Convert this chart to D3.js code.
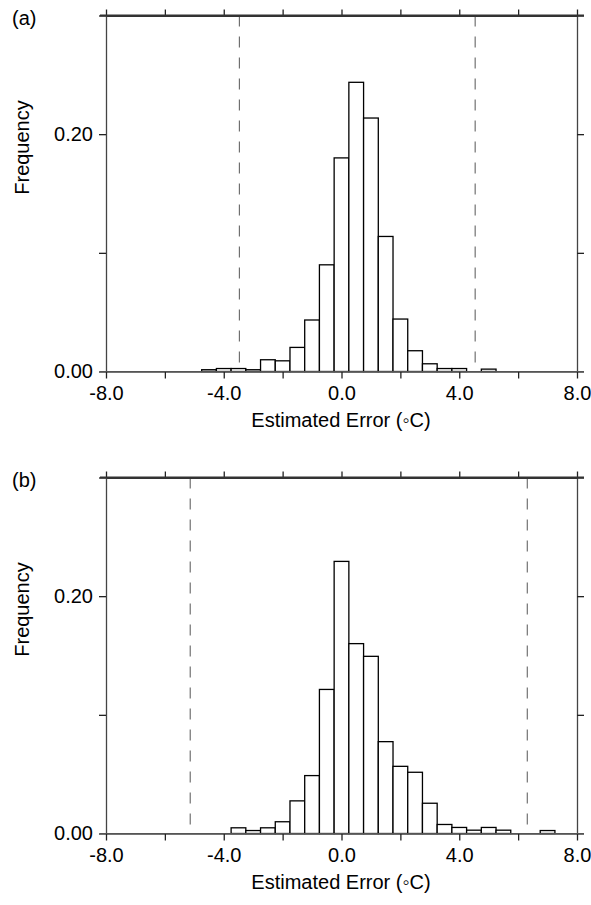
<!DOCTYPE html>
<html>
<head>
  <meta charset="UTF-8">
  <title>Estimated error histograms</title>
  <script src="https://cdn.jsdelivr.net/npm/d3@7"></script>
  <style>
    body { margin: 0; background: #fff; }
    text { font-family: "Liberation Sans", Arial, sans-serif; fill: #000; }
  </style>
</head>
<body>
<div id="chart"></div>
<script>
// bin centres (bin width 0.5 degC)
var binsA = [-4.5, -4.0, -3.5, -3.0, -2.5, -2.0, -1.5, -1.0, -0.5, 0.0, 0.5, 1.0, 1.5, 2.0, 2.5, 3.0, 3.5, 4.0, 4.5, 5.0];
var freqA = [0.0015, 0.0025, 0.0025, 0.0015, 0.0099, 0.0090, 0.0203, 0.0434, 0.0899, 0.1800, 0.2437, 0.2136, 0.1138, 0.0442, 0.0175, 0.0065, 0.0025, 0.0025, 0, 0.0020];

var binsB = [-3.5, -3.0, -2.5, -2.0, -1.5, -1.0, -0.5, 0.0, 0.5, 1.0, 1.5, 2.0, 2.5, 3.0, 3.5, 4.0, 4.5, 5.0, 5.5, 6.0, 6.5, 7.0];
var freqB = [0.0048, 0.0025, 0.0048, 0.0099, 0.0275, 0.0488, 0.1214, 0.2293, 0.1600, 0.1493, 0.0774, 0.0566, 0.0516, 0.0255, 0.0076, 0.0051, 0.0028, 0.0051, 0.0028, 0, 0, 0.0025];

// dashed limits
var limitsA = [-3.47, 4.54];
var limitsB = [-5.14, 6.31];

var xTicks = [-8, -6, -4, -2, 0, 2, 4, 6, 8];
var xLabels = ["-8.0", "", "-4.0", "", "0.0", "", "4.0", "", "8.0"];
var yTicks = [0, 0.1, 0.2, 0.3];
var yLabels = ["0.00", "", "0.20", ""];

var binWidth = 0.5;

var W = 591, H = 905;
var svg = d3.select("#chart").append("svg")
  .attr("width", W).attr("height", H);

var x = d3.scaleLinear().domain([-8, 8]).range([106, 577]);

function panel(top, tag, bins, freq, limits) {
  var bottom = top + 356;
  var y = d3.scaleLinear().domain([0, 0.3]).range([bottom, top]);
  var g = svg.append("g");

  // dashed limits
  g.selectAll("line.lim").data(limits).enter().append("line")
    .attr("class", "lim")
    .attr("x1", d => x(d)).attr("x2", d => x(d))
    .attr("y1", top).attr("y2", bottom)
    .attr("stroke", "#555").attr("stroke-width", 1)
    .attr("stroke-dasharray", "11,10");

  // bars
  var data = bins.map((c, i) => ({c: c, v: freq[i]})).filter(d => d.v > 0);
  g.selectAll("rect.bar").data(data).enter().append("rect")
    .attr("class", "bar")
    .attr("x", d => x(d.c - binWidth / 2))
    .attr("width", d => x(d.c + binWidth / 2) - x(d.c - binWidth / 2))
    .attr("y", d => y(d.v))
    .attr("height", d => y(0) - y(d.v))
    .attr("fill", "#fff")
    .attr("stroke", "#000")
    .attr("stroke-width", 1.3);

  // frame axes
  var bAx = g.append("g").attr("transform", "translate(0," + bottom + ")")
    .call(d3.axisBottom(x).tickValues(xTicks).tickSize(7).tickSizeOuter(0)
      .tickFormat((d, i) => xLabels[i]));
  var tAx = g.append("g").attr("transform", "translate(0," + top + ")")
    .call(d3.axisTop(x).tickValues(xTicks).tickSize(6).tickSizeOuter(0).tickFormat(""));
  var lAx = g.append("g").attr("transform", "translate(106,0)")
    .call(d3.axisLeft(y).tickValues(yTicks).tickSize(7).tickSizeOuter(0)
      .tickFormat((d, i) => yLabels[i]));
  var rAx = g.append("g").attr("transform", "translate(577,0)")
    .call(d3.axisRight(y).tickValues(yTicks).tickSize(7).tickSizeOuter(0).tickFormat(""));

  [bAx, tAx, lAx, rAx].forEach(function(a) {
    a.select(".domain").attr("stroke", "#444").attr("stroke-width", 1.3);
    a.selectAll(".tick line").attr("stroke", "#222").attr("stroke-width", 1.3);
    a.selectAll("text").attr("font-family", "Liberation Sans, Arial, sans-serif")
      .attr("font-size", 20).attr("fill", "#000");
  });
  tAx.select(".domain").attr("stroke", "#333").attr("stroke-width", 2);
  bAx.selectAll("text").attr("dy", null).attr("y", 28);
  lAx.selectAll("text").attr("x", -13);

  // baseline / top line reach beyond the frame
  g.append("line").attr("x1", 100).attr("x2", 584).attr("y1", bottom).attr("y2", bottom)
    .attr("stroke", "#555").attr("stroke-width", 1.2);
  g.append("line").attr("x1", 100).attr("x2", 584).attr("y1", top).attr("y2", top)
    .attr("stroke", "#333").attr("stroke-width", 2);

  g.append("text").attr("x", 341).attr("y", bottom + 55)
    .attr("text-anchor", "middle").attr("font-size", 20)
    .text("Estimated Error (\u25E6C)");

  g.append("text")
    .attr("transform", "translate(29," + (bottom - 224) + ") rotate(-90)")
    .attr("text-anchor", "middle").attr("font-size", 20)
    .text("Frequency");

  g.append("text").attr("x", 12).attr("y", top + 9)
    .attr("font-size", 20).text(tag);
}

panel(15.5, "(a)", binsA, freqA, limitsA);
panel(477.5, "(b)", binsB, freqB, limitsB);
</script>
</body>
</html>
